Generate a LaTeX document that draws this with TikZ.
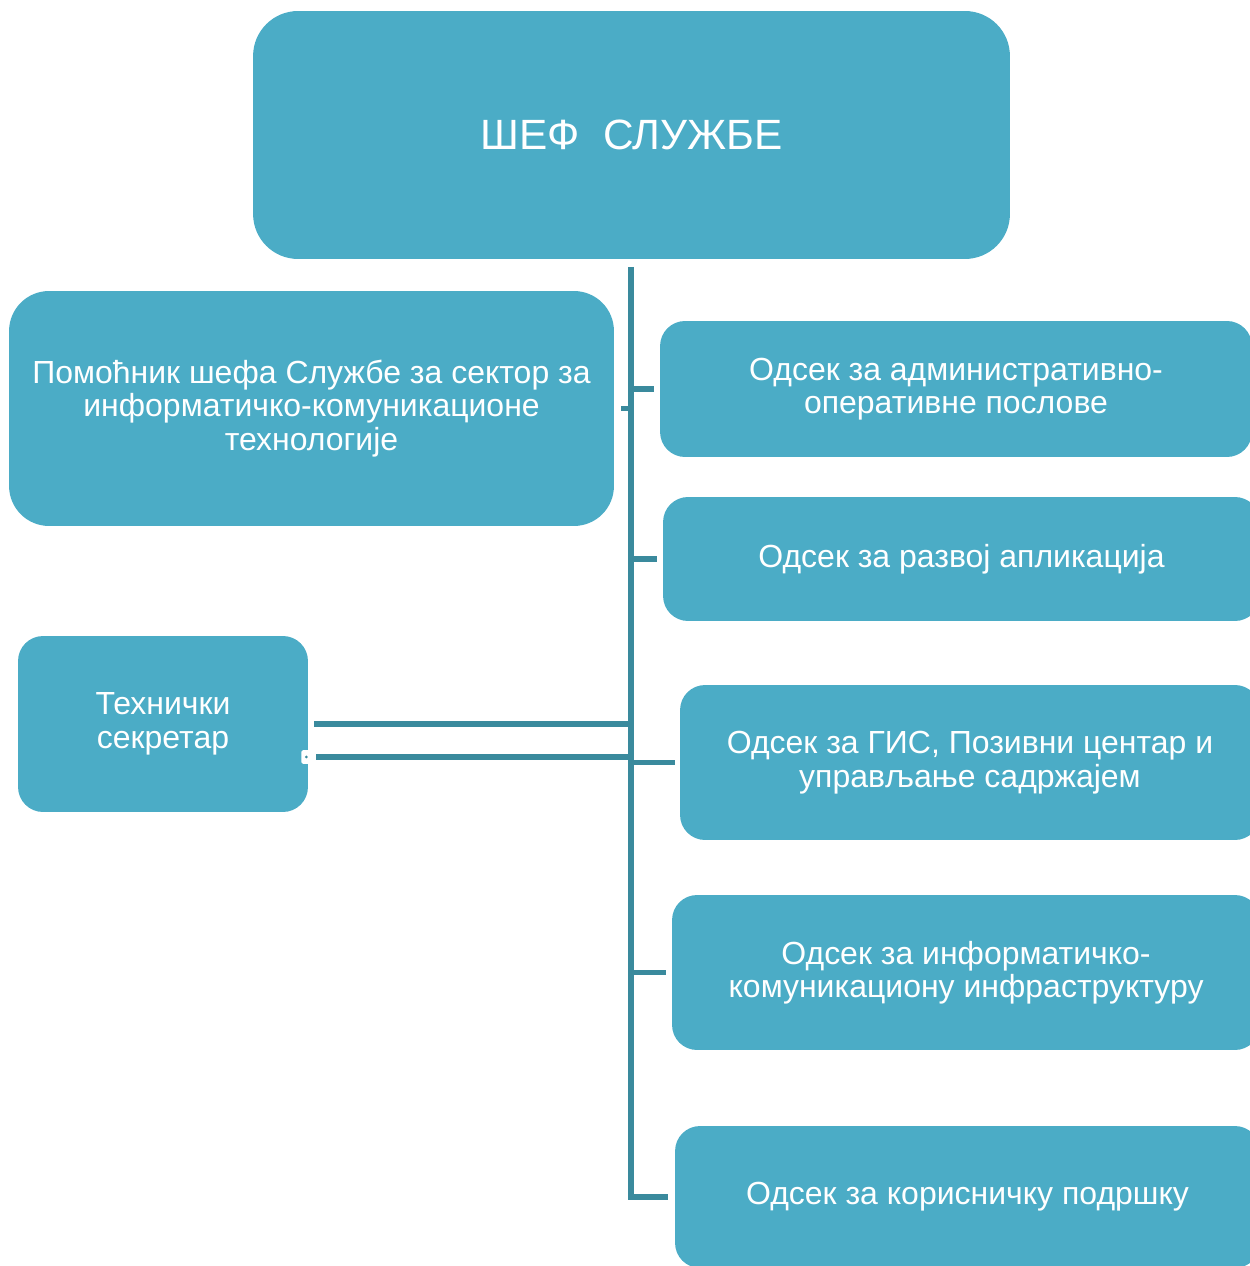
\documentclass[tikz,border=0pt]{standalone}
\usepackage{fontspec}
\setmainfont{Liberation Sans}
\usetikzlibrary{positioning}

\definecolor{boxfill}{HTML}{4BACC6}
\definecolor{linkcol}{HTML}{3A8A9D}

\tikzset{
  unit/.style={fill=boxfill, rounded corners=0.5cm, text=white, align=center,
    inner sep=0pt, font=\fontsize{18.2}{19}\selectfont},
  link/.style={draw=linkcol, line width=3.3pt},
}

\begin{document}
\begin{tikzpicture}[x=0.02cm, y=-0.02cm]
  \useasboundingbox (0,0) rectangle (1249,1266);
  % chief and assistant
  \node[unit, rounded corners=0.9cm, minimum width=15.14cm, minimum height=4.96cm,
    font=\fontsize{24.1}{27}\selectfont] (chief) at (631.5,135) {ШЕФ\ \ СЛУЖБЕ};
  \node[unit, rounded corners=0.8cm, minimum width=12.1cm, minimum height=4.7cm]
    (assist) at (311.5,408.5)
    {Помоћник шефа Службе за сектор за\\информатичко-комуникационе\\технологије};
  \node[unit, minimum width=5.8cm, minimum height=3.52cm] (tech) at (163,724)
    {Технички\\секретар};
  % departments
  \node[unit, minimum width=11.84cm, minimum height=2.72cm] (admin) at (956,389)
    {Одсек за административно-\\оперативне послове};
  \node[unit, minimum width=11.94cm, minimum height=2.48cm] (apps) at (961.5,559)
    {Одсек за развој апликација};
  \node[unit, minimum width=11.6cm, minimum height=3.1cm] (gis) at (970,762.5)
    {Одсек за ГИС, Позивни центар и\\управљање садржајем};
  \node[unit, minimum width=11.76cm, minimum height=3.1cm] (infra) at (966,972.5)
    {Одсек за информатичко-\\комуникациону инфраструктуру};
  \node[unit, minimum width=11.7cm, minimum height=2.84cm] (support) at (967.5,1197)
    {Одсек за корисничку подршку};

  % connectors
  \coordinate (spine) at (631,267);
  \draw[link] (spine) |- ([xshift=-0.14cm]support.west);
  \draw[link] (spine |- admin.west) -- ([xshift=-0.12cm]admin.west);
  \draw[link] (spine |- apps.west) -- ([xshift=-0.12cm]apps.west);
  \draw[link] (spine |- gis.west) -- ([xshift=-0.1cm]gis.west);
  \draw[link] (spine |- infra.west) -- ([xshift=-0.12cm]infra.west);
  \draw[link] (spine |- assist.east) -- ++(-10,0);
  \draw[link] (spine |- tech.east) -- ([xshift=0.12cm]tech.east);
  \draw[link] ([yshift=-0.66cm]tech.east -| spine) -- ([xshift=0.16cm,yshift=-0.66cm]tech.east);
  \node[fill=white, rounded corners=1pt, minimum width=0.16cm, minimum height=0.28cm,
    inner sep=0pt] (grip) at ([xshift=-0.06cm,yshift=-0.66cm]tech.east) {};
  \fill[linkcol] ([xshift=0.02cm]grip.center) circle (0.03cm);
\end{tikzpicture}
\end{document}
